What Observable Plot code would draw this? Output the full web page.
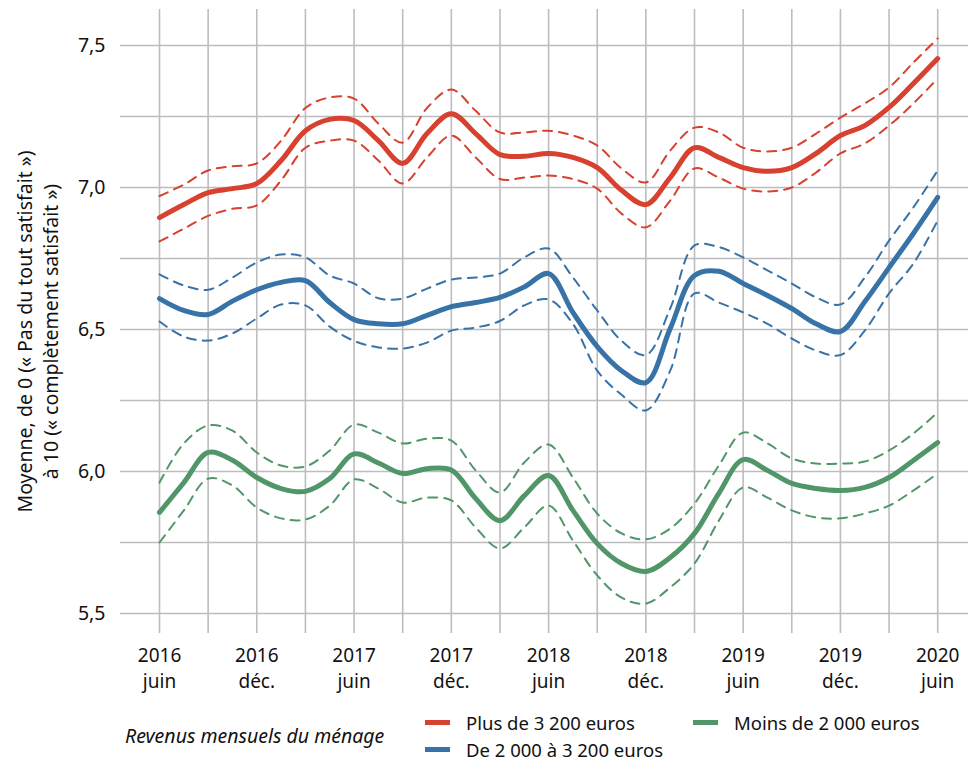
<!DOCTYPE html>
<html>
<head>
<meta charset="utf-8">
<script src="https://cdn.jsdelivr.net/npm/d3@7"></script>
<script src="https://cdn.jsdelivr.net/npm/@observablehq/plot@0.6"></script>
<style>
  body { margin: 0; background: #fff; }
  #wrap { position: relative; width: 968px; height: 762px; overflow: hidden; font-family: "Noto Sans", sans-serif; color: #111; }
  #wrap svg { position: absolute; left: 0; top: 0; }
  .leg { position: absolute; font-size: 18.5px; line-height: 16px; white-space: nowrap; }
  .sw { position: absolute; width: 25px; height: 5px; }
</style>
</head>
<body>
<div id="wrap"></div>
<script>
// x: months since June 2016
const months = [0,1.5,3,4.5,6,7.5,9,10.5,12,13.5,15,16.5,18,19.5,21,22.5,24,25.5,27,28.5,30,31.5,33,34.5,36,37.5,39,40.5,42,43.5,45,46.5,48];

const seriesNames = ["Plus de 3 200 euros", "De 2 000 à 3 200 euros", "Moins de 2 000 euros"];
const seriesColors = ["#d8402f", "#3873a8", "#519669"];

const redMean  = [6.894,6.94,6.982,6.996,7.014,7.095,7.20,7.24,7.236,7.165,7.085,7.19,7.26,7.19,7.116,7.11,7.12,7.106,7.07,6.99,6.94,7.035,7.14,7.106,7.07,7.057,7.07,7.12,7.183,7.218,7.282,7.366,7.454];
const redUpper = [6.97,7.01,7.06,7.075,7.085,7.165,7.28,7.317,7.313,7.225,7.158,7.28,7.345,7.27,7.194,7.194,7.20,7.183,7.148,7.067,7.018,7.13,7.211,7.194,7.14,7.127,7.14,7.19,7.246,7.296,7.352,7.44,7.525];
const redLower = [6.81,6.855,6.90,6.925,6.937,7.025,7.14,7.165,7.165,7.095,7.014,7.106,7.183,7.106,7.03,7.035,7.042,7.03,6.996,6.908,6.86,6.954,7.067,7.035,6.996,6.986,7.0,7.053,7.12,7.155,7.218,7.296,7.384];

const blueMean  = [6.609,6.567,6.553,6.60,6.64,6.666,6.672,6.595,6.535,6.52,6.52,6.55,6.58,6.595,6.613,6.65,6.697,6.56,6.44,6.355,6.313,6.503,6.69,6.705,6.662,6.62,6.574,6.52,6.493,6.598,6.718,6.838,6.965];
const blueUpper = [6.694,6.655,6.64,6.683,6.736,6.764,6.754,6.69,6.662,6.61,6.609,6.644,6.676,6.683,6.697,6.754,6.785,6.683,6.567,6.46,6.41,6.574,6.796,6.79,6.754,6.708,6.662,6.613,6.588,6.683,6.813,6.93,7.06];
const blueLower = [6.528,6.475,6.461,6.486,6.539,6.588,6.585,6.51,6.46,6.437,6.433,6.454,6.496,6.507,6.53,6.585,6.606,6.52,6.355,6.27,6.215,6.355,6.627,6.595,6.56,6.52,6.468,6.426,6.41,6.496,6.627,6.732,6.884];

const greenMean  = [5.856,5.961,6.067,6.04,5.979,5.94,5.93,5.975,6.062,6.03,5.993,6.01,6.005,5.905,5.827,5.915,5.986,5.863,5.746,5.676,5.648,5.697,5.782,5.923,6.042,6.004,5.958,5.94,5.933,5.944,5.979,6.039,6.102];
const greenUpper = [5.961,6.099,6.162,6.144,6.067,6.021,6.018,6.074,6.165,6.137,6.099,6.116,6.109,6.004,5.926,6.032,6.095,5.979,5.852,5.782,5.761,5.799,5.887,6.021,6.137,6.099,6.046,6.028,6.028,6.035,6.074,6.134,6.208];
const greenLower = [5.75,5.863,5.975,5.951,5.873,5.835,5.831,5.88,5.972,5.94,5.891,5.908,5.898,5.803,5.729,5.803,5.88,5.757,5.634,5.556,5.535,5.592,5.676,5.827,5.944,5.908,5.863,5.838,5.835,5.852,5.88,5.933,5.993];

const gridMonths = [0,3,6,9,12,15,18,21,24,27,30,33,36,39,42,45,48];
const tickMonths = [0,6,12,18,24,30,36,42,48];
const tickYears  = ["2016","2016","2017","2017","2018","2018","2019","2019","2020"];
const tickPeriods = ["juin","déc.","juin","déc.","juin","déc.","juin","déc.","juin"];
const yGrid  = [5.5,5.75,6,6.25,6.5,6.75,7,7.25,7.5];
const yTicks = [5.5,6,6.5,7,7.5];

const yTitle = "Moyenne, de 0 (« Pas du tout satisfait »)\nà 10 (« complètement satisfait »)";
const legendTitle = "Revenus mensuels du ménage";

function rows(arr, serie, kind) {
  return arr.map((v, i) => ({month: months[i], value: v, serie, kind}));
}
const meanRows = [
  ...rows(redMean, seriesNames[0], "mean"),
  ...rows(blueMean, seriesNames[1], "mean"),
  ...rows(greenMean, seriesNames[2], "mean")
];
const ciRows = [
  ...rows(redUpper, seriesNames[0], "up"), ...rows(redLower, seriesNames[0], "lo"),
  ...rows(blueUpper, seriesNames[1], "up"), ...rows(blueLower, seriesNames[1], "lo"),
  ...rows(greenUpper, seriesNames[2], "up"), ...rows(greenLower, seriesNames[2], "lo")
];

const gridColor = "#bdbdbf";
const font = "Noto Sans, sans-serif";

const chart = Plot.plot({
  width: 968,
  height: 700,
  marginLeft: 120,
  marginRight: 0,
  marginTop: 9,
  marginBottom: 67,
  style: {fontFamily: font, fontSize: "19px", color: "#111", background: "transparent"},
  x: {domain: [-2.406, 49.9], axis: null},
  y: {domain: [5.4296, 7.6268], axis: null},
  color: {domain: seriesNames, range: seriesColors},
  marks: [
    Plot.ruleX(gridMonths, {x: d => d, stroke: gridColor, strokeWidth: 1.6}),
    Plot.ruleY(yGrid, {y: d => d, stroke: gridColor, strokeWidth: 1.6}),
    Plot.text(yTicks, {
      y: d => d, text: d => d.toFixed(1).replace(".", ","),
      frameAnchor: "left", textAnchor: "end", dx: -15, fontSize: 19.5
    }),
    Plot.text(tickMonths, {
      x: d => d, text: (d, i) => tickYears[i] + "\n" + tickPeriods[i],
      frameAnchor: "bottom", lineAnchor: "top", dy: 10, lineHeight: 1.37, fontSize: 19
    }),
    Plot.text([yTitle], {
      text: d => d, frameAnchor: "left", rotate: -90, dx: -84, dy: 10,
      textAnchor: "middle", lineAnchor: "middle", lineHeight: 1.37, fontSize: 19.5
    }),
    Plot.line(ciRows, {
      x: "month", y: "value", z: d => d.serie + d.kind, stroke: "serie",
      strokeWidth: 2, strokeDasharray: "9,7", curve: "catmull-rom"
    }),
    Plot.line(meanRows, {
      x: "month", y: "value", z: "serie", stroke: "serie",
      strokeWidth: 5, curve: "catmull-rom"
    })
  ]
});

const wrap = document.getElementById("wrap");
wrap.appendChild(chart);

// Legend (below the SVG)
function addLegText(txt, left, top, italic, size) {
  const d = document.createElement("div");
  d.className = "leg";
  d.textContent = txt;
  d.style.left = left + "px";
  d.style.top = top + "px";
  if (italic) d.style.fontStyle = "italic";
  if (size) d.style.fontSize = size + "px";
  wrap.appendChild(d);
}
function addSwatch(color, left, top) {
  const s = document.createElement("div");
  s.className = "sw";
  s.style.background = color;
  s.style.left = left + "px";
  s.style.top = top + "px";
  wrap.appendChild(s);
}
addLegText(legendTitle, 125, 728, true, 19.5);
const legPos = [[425, 720], [425, 747], [693, 720]];
seriesNames.forEach((name, i) => {
  const [lx, ly] = legPos[i];
  addSwatch(seriesColors[i], lx, ly);
  addLegText(name, lx + 41, ly - 5, false);
});
</script>
</body>
</html>
